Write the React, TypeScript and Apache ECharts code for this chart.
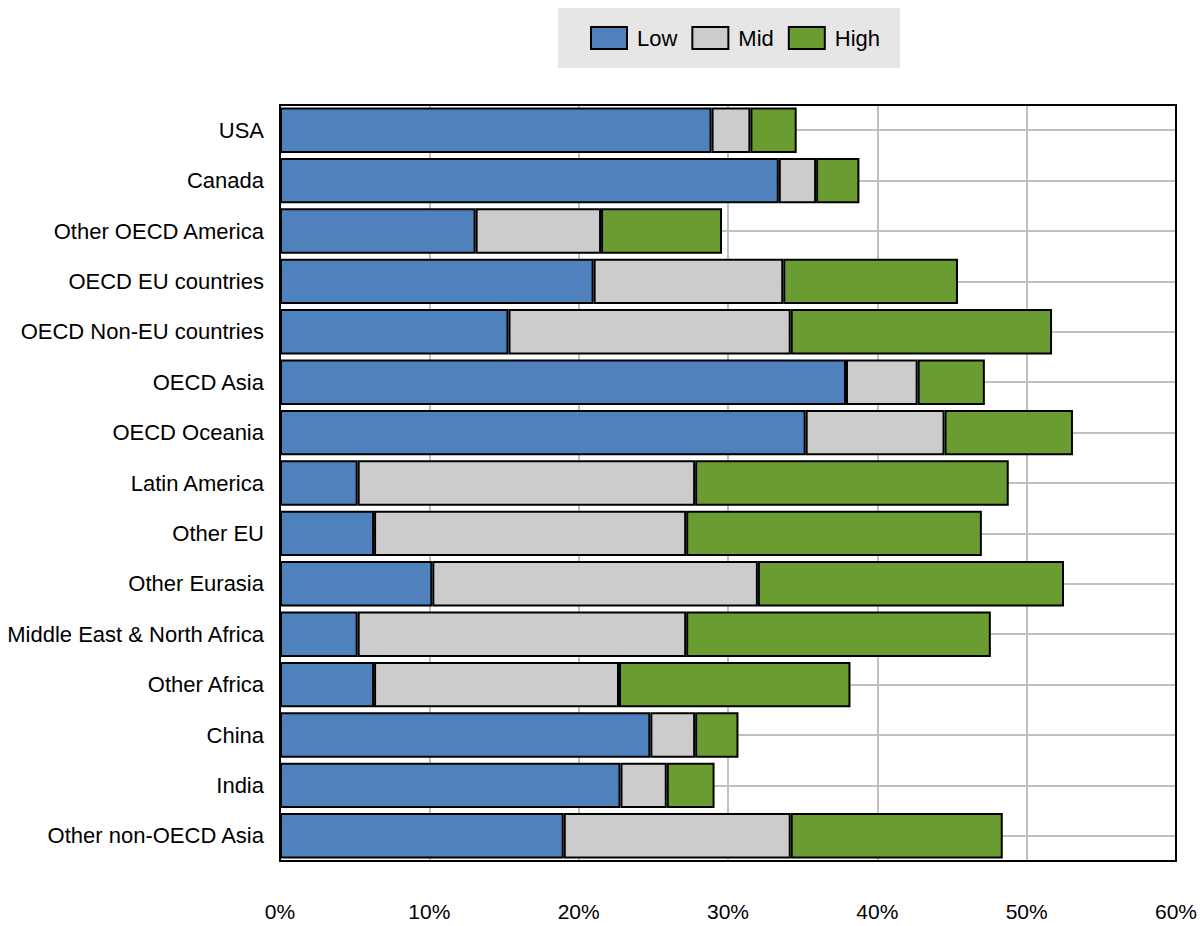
import React, { useEffect, useRef } from "react";
import * as echarts from "echarts";

const categories = [
  "USA",
  "Canada",
  "Other OECD America",
  "OECD EU countries",
  "OECD Non-EU countries",
  "OECD Asia",
  "OECD Oceania",
  "Latin America",
  "Other EU",
  "Other Eurasia",
  "Middle East & North Africa",
  "Other Africa",
  "China",
  "India",
  "Other non-OECD Asia",
];

// cumulative ends (%), converted to segment sizes below
const lowEnd = [28.9, 33.4, 13.1, 21.0, 15.3, 37.9, 35.2, 5.2, 6.3, 10.2, 5.2, 6.3, 24.8, 22.8, 19.0];
const midEnd = [31.5, 35.9, 21.5, 33.7, 34.2, 42.7, 44.5, 27.8, 27.2, 32.0, 27.2, 22.7, 27.8, 25.9, 34.2];
const highEnd = [34.6, 38.8, 29.6, 45.4, 51.7, 47.2, 53.1, 48.8, 47.0, 52.5, 47.6, 38.2, 30.7, 29.1, 48.4];

const low = lowEnd;
const mid = midEnd.map((m, i) => +(m - lowEnd[i]).toFixed(1));
const high = highEnd.map((h, i) => +(h - midEnd[i]).toFixed(1));

const xTicks = { min: 0, max: 60, interval: 10 };

const FONT = "'Liberation Sans Narrow', 'Arial Narrow', 'Liberation Sans', Arial, sans-serif";

const GRID = { left: 280, right: 28, top: 105, bottom: 65 };
const W = 1204;
const H = 926;

export default function App() {
  const ref = useRef<HTMLDivElement>(null);
  useEffect(() => {
    if (!ref.current) return;
    const chart = echarts.init(ref.current, null, { renderer: "svg" });
    const barStyle = (color: string) => ({
      color,
      borderColor: "#000",
      borderWidth: 2,
    });
    chart.setOption({
      animation: false,
      backgroundColor: "#fff",
      legend: {
        left: 558,
        top: 8,
        padding: [18, 20, 18, 32],
        backgroundColor: "#e6e6e6",
        itemWidth: 36,
        itemHeight: 22,
        itemGap: 14,
        icon: "rect",
        itemStyle: { borderColor: "#000", borderWidth: 2 },
        textStyle: { fontFamily: FONT, fontSize: 22, color: "#000", padding: [0, 0, 0, 5] },
        data: ["Low", "Mid", "High"],
      },
      grid: {
        ...GRID,
        show: false,
      },
      graphic: [
        {
          type: "rect",
          z: 100,
          silent: true,
          shape: {
            x: GRID.left,
            y: GRID.top,
            width: W - GRID.left - GRID.right,
            height: H - GRID.top - GRID.bottom,
          },
          style: { fill: "none", stroke: "#000", lineWidth: 2 },
        },
      ],
      xAxis: {
        type: "value",
        min: xTicks.min,
        max: xTicks.max,
        interval: xTicks.interval,
        axisLine: { show: false },
        axisTick: { show: false },
        axisLabel: {
          formatter: "{value}%",
          fontFamily: FONT,
          fontSize: 21,
          color: "#000",
          margin: 40,
        },
        splitLine: { show: true, lineStyle: { color: "#c0c0c0", width: 2 } },
      },
      yAxis: {
        type: "category",
        data: categories,
        inverse: true,
        axisLine: { show: false },
        axisTick: { show: false },
        axisLabel: {
          fontFamily: FONT,
          fontSize: 22,
          color: "#000",
          margin: 16,
        },
        splitLine: { show: false },
      },
      series: [
        {
          name: "grid-rows",
          type: "line",
          data: [],
          z: 1,
          silent: true,
          markLine: {
            silent: true,
            z: 1,
            symbol: "none",
            label: { show: false },
            lineStyle: { color: "#c0c0c0", width: 2, type: "solid" },
            data: categories.map((c) => ({ yAxis: c })),
          },
        },
        {
          name: "Low",
          type: "bar",
          stack: "total",
          z: 3,
          barCategoryGap: "10%",
          data: low,
          itemStyle: barStyle("#4f81bd"),
        },
        {
          name: "Mid",
          type: "bar",
          stack: "total",
          z: 3,
          barCategoryGap: "10%",
          data: mid,
          itemStyle: barStyle("#cccccc"),
        },
        {
          name: "High",
          type: "bar",
          stack: "total",
          z: 3,
          barCategoryGap: "10%",
          data: high,
          itemStyle: barStyle("#6b9c31"),
        },
      ],
    });
    return () => chart.dispose();
  }, []);
  return (
    <div
      ref={ref}
      style={{ position: "fixed", left: 0, top: 0, width: W, height: H }}
    />
  );
}
